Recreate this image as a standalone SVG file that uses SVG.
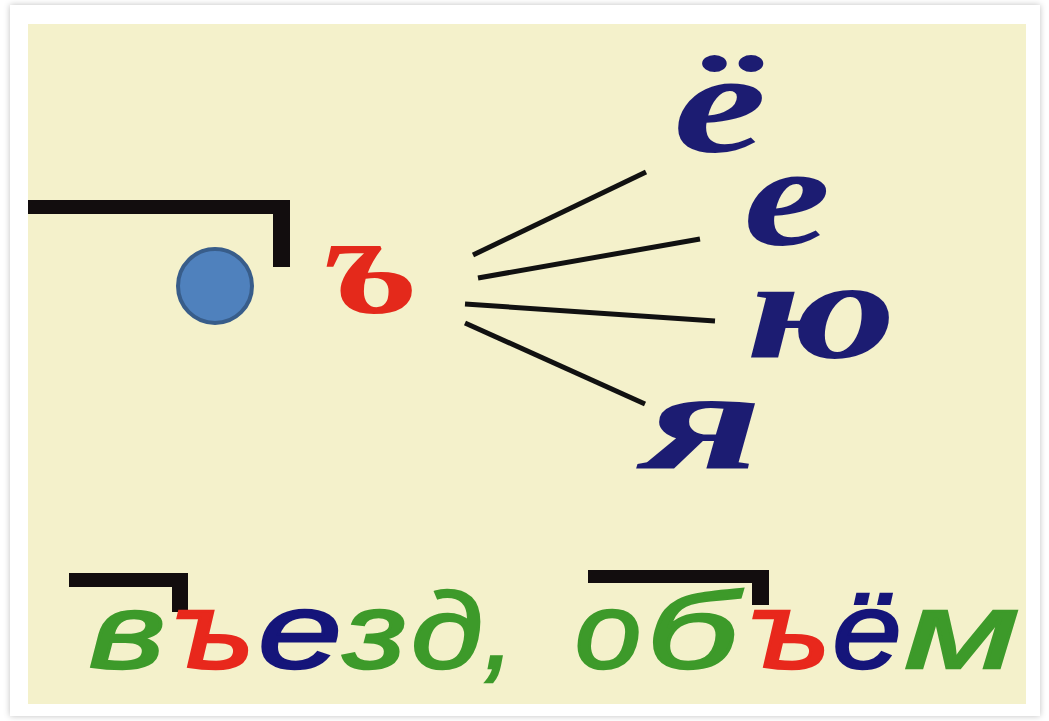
<svg xmlns="http://www.w3.org/2000/svg" width="1049" height="721" viewBox="0 0 1049 721">
  <defs>
    <filter id="shadow" x="-5%" y="-5%" width="110%" height="110%">
      <feGaussianBlur in="SourceAlpha" stdDeviation="3"/>
      <feOffset dx="0" dy="0" result="b"/>
      <feFlood flood-color="#000" flood-opacity="0.25"/>
      <feComposite in2="b" operator="in"/>
      <feMerge><feMergeNode/><feMergeNode in="SourceGraphic"/></feMerge>
    </filter>
  </defs>
  <style>
    .big { font-family: "Liberation Serif", "DejaVu Serif", serif; font-weight: bold; font-style: italic; font-size: 145px; text-anchor: middle; }
    .navy { fill: #1c1c72; }
    .red { fill: #e4291b; }
    .word { font-family: "Liberation Sans", Arial, sans-serif; font-style: italic; font-size: 108px; text-anchor: middle; stroke-width: 2.5; }
    .g { fill: #3d9a2a; stroke: #3d9a2a; }
    .r { fill: #e8281c; stroke: #e8281c; }
    .b { fill: #15157a; stroke: #15157a; }
    .bar { fill: #120d0e; }
    .ray { stroke: #111; stroke-width: 5; stroke-linecap: butt; fill: none; }
  </style>
  <rect x="0" y="0" width="1049" height="721" fill="#ffffff"/>
  <rect x="10" y="5" width="1030" height="711" fill="#ffffff" filter="url(#shadow)"/>
  <rect x="28" y="24" width="998" height="680" fill="#f4f1cb"/>

  <g id="bracket-top">
    <path class="bar" d="M28,200 H290 V267 H273 V214 H28 Z"/>
  </g>
  <g id="circle">
    <circle cx="215" cy="286" r="37" fill="#4f81bd" stroke="#385d8a" stroke-width="4"/>
  </g>
  <g id="hard-sign">
    <text class="big red" transform="translate(371,313) scale(1.25,1)">ъ</text>
  </g>
  <g id="connectors">
    <line class="ray" x1="473" y1="255" x2="646" y2="172"/>
    <line class="ray" x1="478" y1="278" x2="700" y2="239"/>
    <line class="ray" x1="465" y1="304" x2="715" y2="321"/>
    <line class="ray" x1="465" y1="323" x2="645" y2="404"/>
  </g>
  <g id="letter-yo">
    <text class="big navy" transform="translate(720,152) scale(1.45,1)">ё</text>
  </g>
  <g id="letter-e">
    <text class="big navy" transform="translate(787,245) scale(1.35,1)">е</text>
  </g>
  <g id="letter-yu">
    <text class="big navy" transform="translate(821,358) scale(1.42,1)">ю</text>
  </g>
  <g id="letter-ya">
    <text class="big navy" transform="translate(703,468) scale(1.6,1)">я</text>
  </g>

  <g id="word-vyezd">
    <path class="bar" d="M69,573 H188 V612 H172 V587 H69 Z"/>
    <text class="word g" transform="translate(127,668) scale(1.35,1)">в</text>
    <text class="word r" transform="translate(214,668) scale(1.2,1)">ъ</text>
    <text class="word b" transform="translate(300,668) scale(1.4,1)">е</text>
    <text class="word g" transform="translate(375,668) scale(1.25,1)">з</text>
    <text class="word g" transform="translate(447,668) scale(1.2,1)">д</text>
    <text class="word g" transform="translate(499,668)">,</text>
  </g>
  <g id="word-obyom">
    <path class="bar" d="M588,570 H769 V605 H752 V583 H588 Z"/>
    <text class="word g" transform="translate(608,668) scale(1.1,1)">о</text>
    <text class="word g" transform="translate(692,668) scale(1.5,1)">б</text>
    <text class="word r" transform="translate(790,668) scale(1.2,1)">ъ</text>
    <text class="word b" transform="translate(867,668) scale(1.15,1)">ё</text>
    <text class="word g" transform="translate(962,668) scale(1.55,1)">м</text>
  </g>
</svg>
